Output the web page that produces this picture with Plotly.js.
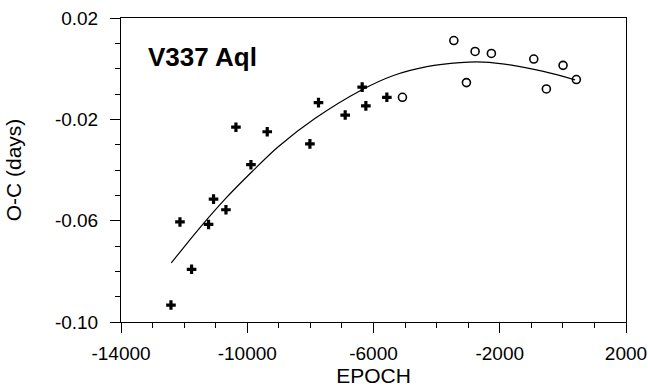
<!DOCTYPE html>
<html>
<head>
<meta charset="utf-8">
<script src="https://cdn.plot.ly/plotly-3.0.1.min.js"></script>
<style>html,body{margin:0;padding:0;background:#fff;}#chart{width:648px;height:387px;}</style>
</head>
<body>
<div id="chart"></div>
<script>
// Plus-marker observations
var plusEpoch = [-12417, -12132, -11764, -11226, -11068, -10675, -10358, -9883, -9367, -8015, -7743, -6897, -6359, -6242, -5577];
var plusOC    = [-0.0933, -0.0605, -0.0792, -0.0615, -0.0515, -0.0557, -0.0231, -0.0379, -0.0249, -0.0297, -0.0134, -0.0183, -0.0073, -0.0147, -0.0113];
// Open-circle observations
var circEpoch = [-5083, -3455, -3056, -2781, -2265, -922, -523, 6, 427];
var circOC    = [-0.0113, 0.0111, -0.0055, 0.0068, 0.0060, 0.0038, -0.0080, 0.0013, -0.0043];
// Fitted curve
var fitEpoch = [-12407, -11543, -10697, -9852, -9009, -7847, -6422, -5368, -4310, -3256, -2518, -1672, -618, 386];
var fitOC    = [-0.0767, -0.0634, -0.0514, -0.0407, -0.0307, -0.0196, -0.0087, -0.0027, 0.0008, 0.0024, 0.0026, 0.0015, -0.0011, -0.0044];
// Tick labels
var xTickVals = [-14000, -10000, -6000, -2000, 2000];
var xTickText = ["-14000", "-10000", "-6000", "-2000", "2000"];
var yTickVals = [0.02, -0.02, -0.06, -0.10];
var yTickText = ["0.02", "-0.02", "-0.06", "-0.10"];

var FONT = "Liberation Sans, Arial, sans-serif";

var traces = [
  {x: fitEpoch, y: fitOC, mode: 'lines', line: {color: '#000', width: 1.2, shape: 'spline', smoothing: 1}, hoverinfo: 'skip'},
  {x: plusEpoch, y: plusOC, mode: 'markers', marker: {symbol: 'cross', size: 8, color: '#000'}},
  {x: circEpoch, y: circOC, mode: 'markers', marker: {symbol: 'circle-open', size: 8, color: '#000', line: {width: 1.6, color: '#000'}}}
];

var layout = {
  width: 648, height: 387,
  margin: {l: 121, r: 22, t: 18, b: 65, pad: 0},
  paper_bgcolor: '#fff', plot_bgcolor: '#fff',
  showlegend: false,
  font: {family: FONT, color: '#000', size: 19},
  xaxis: {
    range: [-14000, 2000], tickvals: xTickVals, ticktext: xTickText,
    ticks: 'outside', ticklen: 10, tickwidth: 1, tickcolor: '#000',
    minor: {dtick: 1000, tick0: -14000, ticks: 'outside', ticklen: 5, tickwidth: 1, tickcolor: '#000', showgrid: false},
    showgrid: false, zeroline: false, showline: true, linecolor: '#000', linewidth: 1, mirror: true,
    tickfont: {family: FONT, size: 19, color: '#000'},
    ticklabelstandoff: 4,
    title: {text: 'EPOCH', font: {family: FONT, size: 21, color: '#000'}, standoff: 1}
  },
  yaxis: {
    range: [-0.10, 0.02], tickvals: yTickVals, ticktext: yTickText,
    ticks: 'outside', ticklen: 10, tickwidth: 1, tickcolor: '#000',
    minor: {dtick: 0.01, tick0: -0.10, ticks: 'outside', ticklen: 5, tickwidth: 1, tickcolor: '#000', showgrid: false},
    showgrid: false, zeroline: false, showline: true, linecolor: '#000', linewidth: 1, mirror: true,
    tickfont: {family: FONT, size: 19, color: '#000'},
    ticklabelstandoff: 8,
    title: {text: 'O-C (days)', font: {family: FONT, size: 21, color: '#000'}, standoff: 27}
  },
  annotations: [{
    text: '<b>V337 Aql</b>', xref: 'paper', yref: 'paper', x: 0.05, y: 0.872,
    xanchor: 'left', yanchor: 'middle', showarrow: false,
    font: {family: FONT, size: 26, color: '#000'}
  }]
};

Plotly.newPlot('chart', traces, layout, {staticPlot: true, displayModeBar: false});
</script>
</body>
</html>
